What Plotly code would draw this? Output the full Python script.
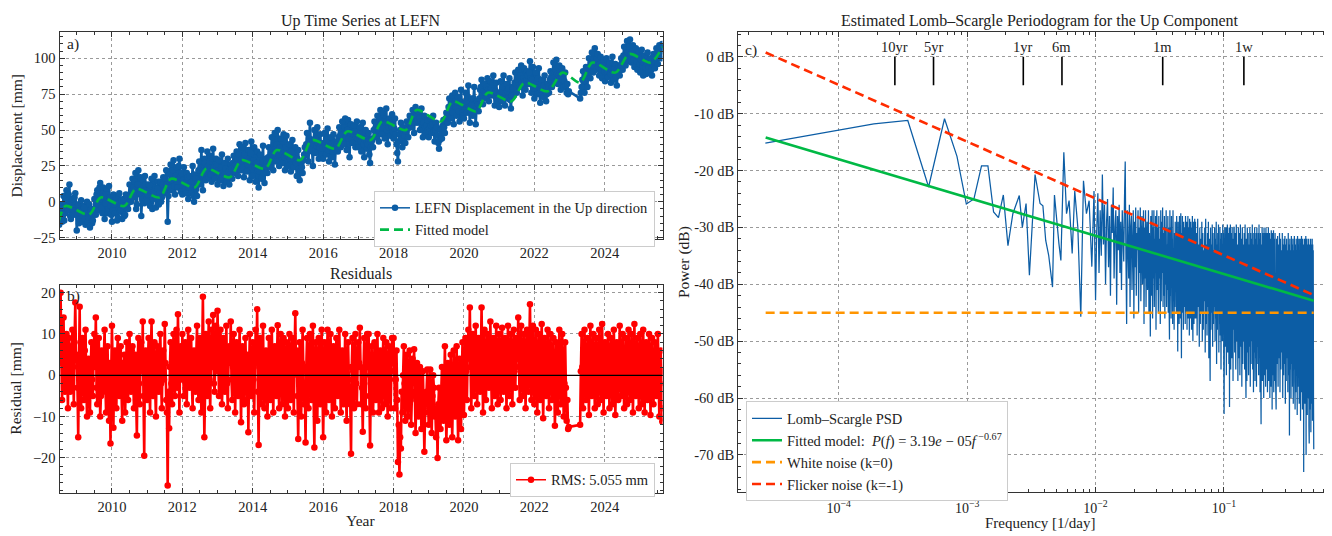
import numpy as np
import plotly.graph_objects as go

# ------------------------------------------------------------------
# Data
# ------------------------------------------------------------------
# Time series: samples every 1/24 yr (main) plus the in-between samples
# (1/48 yr later), two segments (data gap early 2023)
SEG1_START = 2008.50
SEG2_START = 2023.30
STEP_YR = 1.0 / 24.0

DISP_SEG1 = [
    -16, -2, -14, 4, -8, 8, -6, 12, -12, 2, -9, 6,
    -20, -2, -12, 1, -14, -4, -16, 0, -11, -18, -5, -13, 2, -9, 8, -6, 13, -4, 10, -12, 6, -8, 11, -3,
    -14, 5, -8, 3, -11, 6, -6, -12, 2, -9, 4, -5, 12, 0, 16, 3, 20, -2, 22, 5, -10, 15, -1, 12,
    0, 12, -3, 16, 2, 18, -4, 9, -2, 14, 3, 17, 6, 22, -14, 10, 26, 8, 29, 5, 24, 10, 30, 7,
    5, 24, 9, 20, 2, 18, 6, 25, 0, 16, 4, 22, 12, 36, 8, 30, 15, 35, 17, 32, 14, 37, 16, 30,
    12, 29, 15, 33, 11, 27, 14, 30, 12, 26, 16, 32, 20, 35, 18, 40, 22, 38, 17, 41, 21, 36, 15, 42,
    18, 38, 14, 35, 10, 33, 16, 39, 13, 30, 20, 38, 24, 45, 22, 48, 28, 50, 25, 44, 27, 47, 22, 46,
    25, 40, 21, 43, 24, 38, 18, 36, 15, 27, 20, 33, 32, 48, 28, 55, 36, 25, 50, 34, 52, 30, 47, 33,
    30, 48, 33, 51, 28, 45, 31, 47, 26, 42, 35, 52, 38, 56, 40, 58, 36, 57, 31, 54, 41, 53, 38, 56,
    38, 52, 35, 55, 31, 50, 37, 48, 27, 44, 38, 56, 45, 60, 42, 64, 47, 62, 44, 65, 40, 58, 46, 61,
    44, 58, 40, 28, 47, 55, 38, 52, 41, 56, 45, 60, 52, 64, 48, 66, 55, 63, 50, 65, 45, 60, 48, 57,
    45, 58, 48, 60, 42, 55, 46, 37, 50, 44, 57, 48, 62, 55, 72, 58, 74, 54, 76, 60, 73, 56, 78, 62,
    58, 76, 62, 81, 55, 72, 60, 80, 54, 70, 63, 78, 85, 68, 82, 72, 86, 70, 84, 74, 88, 67, 83, 70,
    66, 84, 70, 88, 67, 82, 72, 86, 65, 80, 74, 90, 76, 92, 80, 95, 74, 93, 78, 91, 82, 98, 76, 94,
    72, 90, 75, 93, 69, 85, 73, 88, 70, 82, 76, 91, 80, 97, 84, 99, 82, 95, 78, 93, 80, 90, 76, 75,
]
DISP_SEG1_MID = [
    -8, -11, -4, -13, 2, -3, 5, -10, 0, -6, 3, -2,
    -9, -15, -6, -10, -3, -12, -8, -14, -2, -7, -15, -9, -6, 5, -2, 10, 2, -8, 4, -1, 9, -5, 3, -9,
    -6, -2, 0, -13, 4, -7, 1, -3, -10, 5, -2, 0, 3, 8, 10, 14, -5, 12, 7, 17, 2, 8, 18, 4,
    5, 8, 11, -5, 7, 10, 3, 14, 6, 0, 12, 8, 16, 12, 4, 19, 15, 22, 11, 18, 14, 25, 17, 20,
    15, 13, 6, 17, 10, 12, 14, 4, 19, 9, 13, 28, 24, 18, 22, 27, 20, 25, 28, 19, 30, 24, 21, 25,
    22, 18, 24, 20, 19, 23, 17, 21, 19, 23, 27, 25, 26, 30, 33, 27, 30, 24, 33, 28, 26, 30, 34, 28,
    29, 24, 27, 22, 21, 24, 28, 20, 25, 27, 31, 30, 36, 33, 39, 37, 40, 33, 38, 35, 36, 31, 38, 32,
    32, 30, 35, 31, 29, 27, 30, 23, 21, 24, 29, 38, 40, 36, 44, 42, 35, 40, 44, 39, 41, 38, 40, 37,
    41, 38, 43, 36, 38, 40, 35, 39, 36, 40, 45, 46, 49, 47, 52, 45, 50, 44, 48, 43, 47, 49, 45, 44,
    45, 42, 48, 40, 43, 42, 40, 33, 38, 43, 50, 51, 54, 50, 57, 54, 52, 56, 55, 50, 52, 55, 53, 49,
    51, 47, 34, 42, 50, 44, 47, 46, 49, 51, 54, 57, 58, 55, 60, 59, 57, 58, 56, 54, 55, 52, 53, 50,
    51, 53, 54, 49, 50, 52, 41, 43, 47, 53, 52, 58, 59, 66, 64, 67, 62, 68, 66, 65, 63, 70, 68, 60,
    68, 70, 73, 66, 62, 67, 72, 63, 64, 68, 72, 80, 74, 77, 76, 80, 78, 76, 79, 82, 75, 77, 76, 72,
    75, 77, 80, 73, 76, 77, 79, 71, 74, 79, 83, 82, 85, 87, 88, 83, 86, 84, 85, 88, 90, 86, 85, 79,
    80, 84, 86, 76, 78, 79, 81, 77, 75, 80, 85, 87, 90, 91, 92, 89, 88, 86, 87, 85, 84, 81, 82, 77,
]
DISP_SEG2 = [
    72, 80, 91, 76, 94, 80, 100, 86, 104, 90, 107, 92, 103, 88, 101, 86, 99,
    84, 100, 87, 97, 83, 101, 85, 96, 81, 95, 88, 100, 92, 108, 95, 112, 98, 113, 97, 109, 94, 107, 92, 105,
    90, 106, 88, 102, 89, 104, 90, 100, 88, 103, 93, 107, 96, 109, 100, 110,
]
DISP_SEG2_MID = [
    76, 85, 84, 88, 86, 93, 92, 97, 95, 99, 97, 100, 94, 96, 92, 95, 91,
    93, 90, 94, 89, 92, 91, 93, 87, 90, 91, 95, 97, 102, 101, 106, 104, 108, 103, 105, 99, 102, 98, 101, 96,
    99, 95, 97, 94, 96, 93, 97, 92, 96, 98, 101, 102, 105, 104, 107, 108,
]

RES_SEG1 = [
    12, 20, -6, 14, -4, 10, -8, 7, -3, 11, -7, 17.6,
    5, -15, 16.6, -8, 9, -6, 11, -10, 4, -9, 8, -5, 10, 14, -7, 9, -10, 6, -4, 11, -9, 7, -11, -16.5,
    12, -12.7, 6, -8, 9, -5, 7, -11, 3, -9, 8, -6, 10, -4, 7, -8, 5, -14.6, 9, -7, 8, 13, -19.5, 6,
    -6, 9, -9, 13, -5, 8, -10, 7, -4, 10, -8, 6, 12.4, -6, -26.7, -12.8, 8, -7, 10, -5, 11, 14.8, -9, 7,
    10, -5, 8, -7, 11, -3, 9, -8, 6, -4, 12, -6, 9, -9, 19, -15, 10, -5, 13, -8, 11, 14.6, -4, 12,
    15.6, -5, 11, -7, 9, -4, 12, -8, 7, 13, -6, 10, -9, 8, -5, 11, -11.4, 7, -7, 9, -6, -13.8, 10, -5,
    8, -9, 11, 16, -16.9, 9, -7, 12, -8, 6, -10, 9, -6, 11, -9, 7, -5, 12.1, -8, 10, -7, 9, -10, 8,
    -8, 10, -6, 9, -9, 15, 6, -15.4, 8, -10, 11, -7, -16.3, 9, -8, 10, -6, 12, -17.5, 8, -11, 9, -7, 11,
    -15, 8, -9, 11, -6, 10, -10, 7, -8, 9, -5, 11, -9, 6, -7, 10, -11, 8, -6, -19, 9, -8, 10, -7,
    8, 11.5, -7, -13.7, 9, -8, 10, 10, -17, 7, -9, 8, -6, 10, -9, 6, -8, 9, -7, 8, -10, 7, -8, 9,
    9, -8, 6, -21, -24, -17.7, -9, 7, -11, 5, -10, 6, -12, 4, 6.3, -14, 3, -10, 2, -13, 1, -18.5, -6, 1.4,
    -12, 1.4, -14, 0, -10, -15, -20, -3, -13, 2, -11, 7, -15.7, 3, -12, 5, -15, 6, -10, 7, -15.7, 4, -13, 8,
    -9.6, 9, -6, 11, 16.4, -8, 10, -5, 12, -7, 9, -4, 16.4, -9, 11, -6, 10, -3, 13, -8, 9, -5, 12, -7,
    10, -6, 11.5, -4, 9, -8, 12, -5, 10, -7, 11, -3, 9, 14, -6, 12, -5, 10, -8, 11, -4, 17.2, -6, 12,
    -7, 11, -9, 10, -6, 12.4, -10.4, 9, -5, 11, -8, 10, -6, 9, -12.2, 8, -9, 11, -7, 10, -10, 8, -11, -13,
]
RES_SEG1_MID = [
    3, 5, 8, -2, 6, 1, 9, -4, 5, 2, 8, 4,
    -3, 2, -6, 4, 1, 6, -2, 3, -5, 1, -1, 6, 2, -3, 4, 1, -5, 3, 5, -2, 1, -4, 3, 0,
    2, 4, -3, 5, -1, 3, -4, 2, 5, -2, 1, 4, -3, 6, -1, 2, -6, 3, -2, 5, 1, -5, 4, -1,
    3, -2, 5, 0, 2, -4, 3, 1, 6, -2, 4, -1, 3, -9, -4, 2, -2, 4, 1, 5, -3, 2, 4, -1,
    2, 5, -1, 4, 1, 6, -2, 3, 0, 5, -1, 3, -2, 5, 2, -4, 3, 6, -1, 4, 2, -2, 5, 1,
    4, 1, 3, -1, 5, 2, -2, 4, 3, -1, 2, 5, 0, 3, -2, 4, 1, -2, 3, 0, 5, 2, -1, 3,
    -1, 3, 5, -4, 2, 0, 4, -2, 3, 1, -3, 4, 2, -1, 3, 1, 4, -2, 2, 5, 0, 3, -2, 1,
    2, -1, 4, 0, 5, 1, -5, 2, -2, 3, 1, -4, 2, 0, 3, -1, 4, -6, 1, -3, 2, 0, 4, -2,
    -3, 2, 1, 4, -1, 3, -2, 0, 3, -1, 5, 1, -2, 3, 0, -3, 2, -1, -7, 2, 1, 3, -2, 2,
    3, 2, -3, 1, 0, 3, 2, -5, -2, 1, -3, 2, 3, -1, 1, -2, 2, 0, 1, -3, 2, -1, 1, 3,
    1, -1, -6, -12, -15, -4, 0, -2, -3, -1, -2, -1, -5, 1, -4, -6, -3, -2, -6, -5, -8, -9, -4, -7,
    -6, -8, -5, -3, -9, -8, -7, -9, -4, -6, -3, -5, -8, -4, -3, -6, -4, -7, -2, -5, -4, -6, -1, -3,
    2, 1, 4, 5, 2, 3, 1, 5, 2, 3, 1, 4, 3, 2, 1, 4, 2, 5, 1, 3, 2, 4, 1, 3,
    2, 3, 1, 4, 2, 3, 1, 4, 2, 3, 1, 5, 4, 2, 3, 1, 4, 2, 3, 1, 6, 3, 2, 1,
    2, 1, 3, 2, 4, 1, 0, 3, 2, 1, 3, 2, 1, 0, -3, 2, 1, 3, 2, 0, -2, -3, -6, -12.5,
]
RES_SEG2 = [
    -12, 10, -8, 11, -6, 9, -9.6, 12, -5, 10,
    -8, 9, -7, 11, -6, 12.4, -9, 8, -5, 10,
    -8, 9, -7, 11, -9.6, 8, -6, 12, -5, 10,
    -8, 9, -7, 11, -6, 10, -9, 12.4, -5, 9,
    -8, 10, -7, 11, -9, 8, -6, 10, -9.6, 9,
    -7, 8, -5, 10, -10, 6, -11.2,
]
RES_SEG2_MID = [
    1, 2, 3, -1, 2, 1, 3, 2, 0, 3,
    1, -2, 2, 1, 3, 0, 2, -1, 3, 1,
    2, 0, 3, 1, -1, 2, 3, 0, 2, 1,
    -2, 3, 1, 2, 0, 3, 1, -1, 2, 3,
    0, 2, 1, -2, 3, 1, 2, 0, 3, 1,
    -1, 2, 3, 0, -2, 1, -8,
]

# Fitted model (troughs / peaks)
MODEL_T = [2008.50, 2008.68, 2009.35, 2009.68, 2010.35, 2010.68, 2011.35, 2011.68,
           2012.35, 2012.68, 2013.35, 2013.68, 2014.35, 2014.68, 2015.35, 2015.68,
           2016.35, 2016.68, 2017.35, 2017.68, 2018.35, 2018.65, 2019.35, 2019.68,
           2020.35, 2020.68, 2021.35, 2021.72, 2022.38, 2022.80, 2023.30, 2023.65,
           2024.30, 2024.70, 2025.30, 2025.64]
MODEL_MM = [-13, -3, -9, 3, -3, 9, 3, 16,
            10, 23, 17, 29, 23, 36, 29, 43,
            37, 49, 43, 56, 50, 64, 56, 70,
            63, 76, 70, 83, 77, 90, 83, 97,
            90, 103, 97, 108]
RMS_LABEL = "RMS: 5.055 mm"

# Lomb-Scargle periodogram: sparse low-frequency part (log10 f, dB)
PSD_LOGF_SPARSE = [-4.571, -3.726, -3.462, -3.300, -3.176, -3.079, -3.006, -2.947, -2.888, -2.838,
                   -2.794, -2.756, -2.718, -2.682, -2.644, -2.594, -2.570, -2.541, -2.515, -2.471,
                   -2.432, -2.410, -2.388, -2.365, -2.335, -2.320, -2.285, -2.270, -2.247, -2.226,
                   -2.206, -2.182, -2.162, -2.138, -2.115, -2.094, -2.071, -2.050, -2.029, -2.012,
                   -2.000]
PSD_DB_SPARSE = [-15.2, -11.8, -11.2, -22.9, -10.9, -17.5, -25.9, -25.0, -19.2, -19.2,
                 -27.3, -28.3, -24.3, -33.2, -27.6, -24.4, -30.0, -25.8, -38.4, -20.7,
                 -25.8, -26.2, -32.3, -34.9, -40.5, -24.3, -32.9, -35.8, -16.8, -27.6,
                 -25.3, -34.6, -23.6, -30.0, -45.7, -21.8, -27.6, -25.3, -36.9, -23.6,
                 -42.8]
# Dense part: frequency band edges [1/day] and the dB values read in each band
PSD_BAND_EDGES = [0.0102, 0.030, 0.060, 0.12, 0.25, 0.50]
PSD_DB_BAND1 = [
    -31, -24, -38, -27, -35, -20.7, -33, -26, -40, -29,
    -25, -37, -28, -42, -26, -31, -23, -39, -30, -27,
    -43.6, -28, -34, -26, -38, -29, -41, -27, -32, -36,
    -25, -18.4, -35, -47, -27, -33, -39, -26, -44, -30,
    -28, -41, -33, -27, -46, -29, -37, -26.5, -42, -31,
    -34, -27, -45, -30, -38, -26.5, -43, -32, -28, -40,
    -35, -27, -47, -30, -39, -27, -44, -33, -29, -41,
    -36, -27, -45, -31, -38, -49.2, -28, -42, -33, -27,
    -46, -30, -39, -27, -44, -32, -36, -28, -48, -31,
]
PSD_DB_BAND2 = [
    -27, -41, -30, -45, -28, -39, -32, -47, -27, -43,
    -29, -38, -26.5, -44, -31, -42, -28, -46, -30, -40,
    -27, -44, -33, -41, -28, -45, -30, -43, -49.7, -27,
    -42, -30, -46, -28, -40, -32, -47, -27, -43, -34,
    -48, -31, -44, -29, -41, -33, -45, -28, -39, -31,
    -51.8, -29, -43, -32, -47, -28, -42, -30, -46, -27.5,
    -40, -53, -31, -45, -28, -43, -33, -48, -29, -44,
    -30, -41, -34, -47, -28, -45, -31, -42, -29, -48,
    -32, -44, -28, -46, -30, -41, -33, -49, -28.5, -43,
    -31, -46, -29, -42, -34, -48, -30, -44, -28, -45,
    -50, -32, -43, -29, -47, -31, -44, -28.5, -46, -33,
]
PSD_DB_BAND3 = [
    -29, -46, -31, -49, -28.5, -44, -33, -51, -30, -47,
    -32, -45, -29, -50, -31, -48, -34, -43, -30, -52,
    -28.5, -47, -33, -49, -31, -44, -29, -53, -32, -46,
    -57, -30, -48, -33, -45, -29.5, -51, -31, -47, -34,
    -44, -30, -50, -32, -46, -29, -54, -33, -48, -31,
    -45, -29.5, -52, -34, -47, -30, -49, -32, -55, -31,
    -46, -33, -50, -29.5, -48, -31, -53, -62.8, -45, -30,
    -51, -32, -47, -30, -56, -33, -49, -29.5, -52, -31,
    -48, -34, -54, -30, -61.6, -32, -47, -29.5, -55, -33,
    -49, -31, -53, -30, -51, -34, -57, -32, -48, -30,
]
PSD_DB_BAND4 = [
    -30, -52, -31, -55, -29.5, -50, -33, -57, -30, -53,
    -31, -56, -29.5, -51, -32, -58, -30, -54, -33, -50,
    -31, -55, -29.5, -53, -60, -32, -57, -30, -52, -31,
    -56, -33, -51, -30, -58, -31, -54, -32, -50, -29.5,
    -55, -33, -59, -31, -52, -30, -57, -32, -53, -31,
    -58, -30, -54, -33, -51, -31, -56, -29.5, -53, -32,
    -59, -31, -55, -64.6, -33, -52, -30, -57, -31, -54,
    -32, -60, -30, -53, -33, -56, -31, -58, -30, -55,
    -33, -52, -31, -59, -32, -54, -30, -57, -34, -53,
    -31, -60, -32, -55, -33, -58, -30.5, -54, -32, -62,
    -31, -56, -33, -53, -30.5, -59, -32, -55, -33, -57,
]
PSD_DB_BAND5 = [
    -31, -57, -62, -32, -54, -31.5, -58, -33, -53, -31,
    -59, -32, -55, -34, -52, -31, -60, -33, -56, -32,
    -54, -31.5, -61, -33, -57, -32, -53, -34, -59, -31,
    -56, -33, -66.6, -32, -55, -34, -60, -31.5, -54, -33,
    -58, -32, -61, -34, -55, -31.5, -57, -62, -33, -59,
    -32, -56, -34, -63, -31.5, -58, -33, -54, -32, -61,
    -34, -57, -32, -64, -33, -59, -31.5, -56, -34, -62,
    -32, -58, -33, -73, -34, -57, -32, -61, -33, -59,
    -31.5, -70, -34, -58, -32, -63, -33, -57, -34, -60,
    -32, -65, -68, -33, -58, -34, -62, -32, -66, -33,
    -57, -34, -61, -32, -64, -33, -59, -34, -60, -69,
]

# Model / reference lines (end points, dB)
LINE_F = [2.7e-5, 0.5]
FIT_DB = [-14.2, -42.9]
WHITE_DB = [-45.0, -45.0]
FLICKER_DB = [0.75, -41.9]

PERIOD_LABELS = ["10yr", "5yr", "1yr", "6m", "1m", "1w"]
PERIOD_DAYS = [3652.5, 1826.25, 365.25, 182.625, 30.0, 7.0]
PERIOD_DB = [0.0, -5.0]

# ------------------------------------------------------------------
BLUE = "#0C5DA5"
GREEN = "#00B945"
ORANGE = "#FF9500"
RED = "#FF2C00"
RESRED = "#FF0000"
FONT = "Liberation Serif"
TXT = "#222222"
OX, OY = 8, 8            # page body margin
W, H = 1324, 528


def px(xp):
    return (xp - OX) / W


def py(yp):
    return 1 - (yp - OY) / H


def interleave(main, mid, start):
    n = min(len(main), len(mid))
    t = np.empty(2 * n)
    v = np.empty(2 * n)
    base = start + STEP_YR * np.arange(n)
    t[0::2] = base
    t[1::2] = base + STEP_YR / 2
    v[0::2] = main[:n]
    v[1::2] = mid[:n]
    return t, v


ta, va = interleave(DISP_SEG1, DISP_SEG1_MID, SEG1_START)
tb, vb = interleave(DISP_SEG2, DISP_SEG2_MID, SEG2_START)
t_disp = np.concatenate([ta, tb])
disp = np.concatenate([va, vb])

ta, va = interleave(RES_SEG1, RES_SEG1_MID, SEG1_START)
tb, vb = interleave(RES_SEG2, RES_SEG2_MID, SEG2_START)
t_res = np.concatenate([ta, tb])
res = np.concatenate([va, vb])

bands = [PSD_DB_BAND1, PSD_DB_BAND2, PSD_DB_BAND3, PSD_DB_BAND4, PSD_DB_BAND5]
f_parts = [10 ** np.array(PSD_LOGF_SPARSE)]
db_parts = [np.array(PSD_DB_SPARSE)]
for i, b in enumerate(bands):
    last = i == len(bands) - 1
    f_parts.append(np.linspace(PSD_BAND_EDGES[i], PSD_BAND_EDGES[i + 1], len(b), endpoint=last))
    db_parts.append(np.array(b))
psd_f = np.concatenate(f_parts)
psd_db = np.concatenate(db_parts)

fig = go.Figure()

# Panel a
fig.add_trace(go.Scatter(
    x=t_disp, y=disp, mode="lines+markers", xaxis="x", yaxis="y",
    line=dict(color=BLUE, width=2.6, simplify=False), marker=dict(color=BLUE, size=6.5),
    showlegend=False, hoverinfo="skip"))
fig.add_trace(go.Scatter(
    x=[None], y=[None], mode="lines+markers", xaxis="x", yaxis="y",
    line=dict(color=BLUE, width=1.5), marker=dict(color=BLUE, size=6.5),
    name="LEFN Displacement in the Up direction", legend="legend"))
fig.add_trace(go.Scatter(
    x=MODEL_T, y=MODEL_MM, mode="lines", xaxis="x", yaxis="y",
    line=dict(color=GREEN, width=2.6, dash="9px,5px", shape="spline", smoothing=0.8),
    name="Fitted model", legend="legend"))

# Panel b
fig.add_trace(go.Scatter(
    x=t_res, y=res, mode="lines+markers", xaxis="x2", yaxis="y2",
    line=dict(color=RESRED, width=2.6, simplify=False), marker=dict(color=RESRED, size=6.5),
    showlegend=False, hoverinfo="skip"))
fig.add_trace(go.Scatter(
    x=[None], y=[None], mode="lines+markers", xaxis="x2", yaxis="y2",
    line=dict(color=RESRED, width=1.5), marker=dict(color=RESRED, size=6.5),
    name=RMS_LABEL, legend="legend2"))

# Panel c
fig.add_trace(go.Scatter(
    x=psd_f, y=psd_db, mode="lines", xaxis="x3", yaxis="y3",
    line=dict(color=BLUE, width=1.25, simplify=False), name="Lomb–Scargle PSD", legend="legend3"))
fig.add_trace(go.Scatter(
    x=LINE_F, y=FIT_DB, mode="lines", xaxis="x3", yaxis="y3",
    line=dict(color=GREEN, width=2.6),
    name="Fitted model:  <i>P</i>(<i>f</i>) = 3.19<i>e</i> − 05<i>f</i><sup> −0.67</sup>",
    legend="legend3"))
fig.add_trace(go.Scatter(
    x=LINE_F, y=WHITE_DB, mode="lines", xaxis="x3", yaxis="y3",
    line=dict(color=ORANGE, width=2.6, dash="9px,5px"), name="White noise (k=0)", legend="legend3"))
fig.add_trace(go.Scatter(
    x=LINE_F, y=FLICKER_DB, mode="lines", xaxis="x3", yaxis="y3",
    line=dict(color=RED, width=2.6, dash="9px,5px"), name="Flicker noise (k=-1)", legend="legend3"))

pxs, pys = [], []
for d in PERIOD_DAYS:
    pxs += [1.0 / d, 1.0 / d, None]
    pys += [PERIOD_DB[0], PERIOD_DB[1], None]
fig.add_trace(go.Scatter(x=pxs, y=pys, mode="lines", xaxis="x3", yaxis="y3",
                         line=dict(color="black", width=1.6), showlegend=False, hoverinfo="skip"))

axis_common = dict(
    showline=True, linecolor="#333333", linewidth=1, mirror="allticks",
    ticks="inside", ticklen=5, tickwidth=1, tickcolor="#333333",
    showgrid=True, gridcolor="#9a9a9a", gridwidth=0.8, griddash="dot",
    zeroline=False, tickfont=dict(family=FONT, size=14.5, color=TXT),
)
minor_common = dict(ticks="inside", ticklen=3, showgrid=False, tickcolor="#333333")

xa_dom = [px(59.5), px(662.5)]
leg_common = dict(bgcolor="white", bordercolor="#cccccc", borderwidth=1,
                  font=dict(family=FONT, size=14.5, color=TXT))
x3_axis = {k: v for k, v in axis_common.items() if k != "tickfont"}
fig.update_layout(
    width=W, height=H, margin=dict(l=0, r=0, t=0, b=0),
    paper_bgcolor="white", plot_bgcolor="white",
    font=dict(family=FONT, size=14.5, color=TXT),
    xaxis=dict(domain=xa_dom, anchor="y", range=[2008.51, 2025.64], tick0=2010, dtick=2,
               minor=dict(tick0=2010, dtick=0.5, **minor_common), **axis_common),
    yaxis=dict(domain=[py(242), py(32)], anchor="x", range=[-26.2, 118.5], tick0=0, dtick=25,
               minor=dict(tick0=0, dtick=5, **minor_common), **axis_common),
    xaxis2=dict(domain=xa_dom, anchor="y2", range=[2008.51, 2025.64], tick0=2010, dtick=2,
                minor=dict(tick0=2010, dtick=0.5, **minor_common), **axis_common),
    yaxis2=dict(domain=[py(499), py(288)], anchor="x2", range=[-28.6, 21.9], tick0=0, dtick=10,
                minor=dict(tick0=0, dtick=2, **minor_common), **axis_common),
    xaxis3=dict(domain=[px(738), 1.0], anchor="y3", type="log", range=[-4.784, -0.159],
                tickmode="array", tickvals=[1e-4, 1e-3, 1e-2, 1e-1],
                ticktext=["10<sup>−4</sup>", "10<sup>−3</sup>", "10<sup>−2</sup>", "10<sup>−1</sup>"],
                ticklabelstandoff=3, tickfont=dict(family=FONT, size=14, color=TXT),
                minor=dict(tickmode="array",
                           tickvals=[k * 10.0 ** e for e in range(-5, 0) for k in range(2, 10)],
                           **minor_common),
                **x3_axis),
    yaxis3=dict(domain=[py(498), py(32)], anchor="x3", range=[-76.6, 4.4],
                tickmode="array", tickvals=[0, -10, -20, -30, -40, -50, -60, -70],
                ticktext=["0 dB", "-10 dB", "-20 dB", "-30 dB", "-40 dB", "-50 dB", "-60 dB", "-70 dB"],
                minor=dict(tick0=0, dtick=2, **minor_common),
                **{k: v for k, v in axis_common.items() if k != "mirror"}, mirror=False),
    legend=dict(x=px(655), y=py(193), xanchor="right", yanchor="top", tracegroupgap=0, **leg_common),
    legend2=dict(x=px(655), y=py(468), xanchor="right", yanchor="top", **leg_common),
    legend3=dict(x=px(746), y=py(406), xanchor="left", yanchor="top", **leg_common),
)

# zero line on residual panel (drawn above the data)
fig.add_shape(type="line", xref="x2 domain", yref="y2", x0=0, x1=1, y0=0, y1=0,
              line=dict(color="black", width=1.2), layer="above")

ann = []


def txt(text, x, y, size=15.5, angle=0, xanchor="center", yanchor="middle"):
    ann.append(dict(text=text, x=x, y=y, xref="paper", yref="paper", showarrow=False,
                    textangle=angle, xanchor=xanchor, yanchor=yanchor,
                    font=dict(family=FONT, size=size, color=TXT)))


txt("Up Time Series at LEFN", px(361), py(21), size=16)
txt("Residuals", px(361), py(277), size=16)
txt("Estimated Lomb–Scargle Periodogram for the Up Component", px(1039.5), py(21), size=16)
txt("Displacement [mm]", px(17), py(137), angle=-90)
txt("Residual [mm]", px(16), py(393), angle=-90)
txt("Year", px(361), py(526))
txt("Power (dB)", px(684), py(265), angle=-90)
txt("Frequency [1/day]", px(1039.5), py(529), size=15)
txt("a)", px(65), py(44), size=15.5, xanchor="left")
txt("b)", px(65), py(299), size=15.5, xanchor="left")
txt("c)", px(743), py(50), size=15.5, xanchor="left")

for lab, d in zip(PERIOD_LABELS, PERIOD_DAYS):
    ann.append(dict(text=lab, x=np.log10(1.0 / d), y=1.8, xref="x3", yref="y3",
                    showarrow=False, xanchor="center", yanchor="middle",
                    font=dict(family=FONT, size=14.5, color=TXT)))

fig.update_layout(annotations=ann)

fig.write_html("out.html")
